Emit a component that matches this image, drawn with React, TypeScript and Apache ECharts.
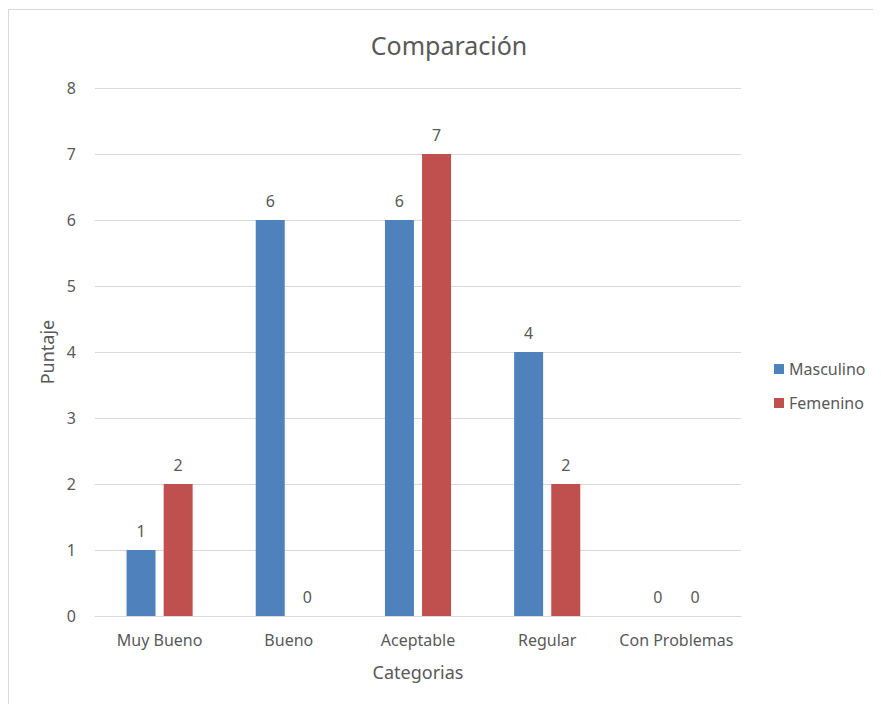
import React, { useEffect, useRef } from "react";
import * as echarts from "echarts";

const categories = ["Muy Bueno", "Bueno", "Aceptable", "Regular", "Con Problemas"];
const masculino = [1, 6, 6, 4, 0];
const femenino = [2, 0, 7, 2, 0];
const yTicks = { min: 0, max: 8, interval: 1 };

const FONT = "'Noto Sans', 'Open Sans', sans-serif";
const TXT = "#595959";

export default function App() {
  const ref = useRef<HTMLDivElement>(null);
  useEffect(() => {
    const chart = echarts.init(ref.current!, null, { renderer: "svg" });
    const label = {
      show: true,
      position: "top" as const,
      distance: 11,
      color: TXT,
      fontSize: 16,
      fontFamily: FONT,
    };
    chart.setOption({
      animation: false,
      textStyle: { fontFamily: FONT },
      graphic: [
        {
          type: "rect",
          shape: { x: 0.5, y: 1.5, width: 1000, height: 1000 },
          style: { fill: "none", stroke: "#d9d9d9", lineWidth: 1 },
          silent: true,
        },
      ],
      title: {
        text: "Comparación",
        left: 436,
        top: 19,
        textAlign: "center",
        textStyle: { color: TXT, fontSize: 25, fontWeight: "normal", fontFamily: FONT },
      },
      legend: {
        orient: "vertical",
        left: 761,
        top: 348,
        itemWidth: 10,
        itemHeight: 10,
        itemGap: 18,
        icon: "rect",
        textStyle: { color: TXT, fontSize: 16, fontFamily: FONT },
        data: ["Masculino", "Femenino"],
      },
      grid: { left: 87, right: 140, top: 80, bottom: 88 },
      xAxis: {
        type: "category",
        data: categories,
        name: "Categorias",
        nameLocation: "middle",
        nameGap: 47,
        nameTextStyle: { color: TXT, fontSize: 18, fontFamily: FONT },
        axisLine: { lineStyle: { color: "#d9d9d9" } },
        axisTick: { show: false },
        axisLabel: { color: TXT, fontSize: 16, margin: 16, fontFamily: FONT, interval: 0, hideOverlap: false },
      },
      yAxis: {
        type: "value",
        min: yTicks.min,
        max: yTicks.max,
        interval: yTicks.interval,
        name: "Puntaje",
        nameLocation: "middle",
        nameGap: 38,
        nameTextStyle: { color: TXT, fontSize: 18, fontFamily: FONT },
        axisLine: { show: false },
        axisTick: { show: false },
        axisLabel: { color: TXT, fontSize: 16, margin: 19, fontFamily: FONT },
        splitLine: { lineStyle: { color: "#d9d9d9" } },
      },
      series: [
        {
          name: "Masculino",
          type: "bar",
          data: masculino,
          barWidth: 29,
          barGap: "28%",
          itemStyle: { color: "#4F81BD" },
          label,
        },
        {
          name: "Femenino",
          type: "bar",
          data: femenino,
          barWidth: 29,
          barGap: "28%",
          itemStyle: { color: "#C0504D" },
          label,
        },
      ],
    });
    return () => chart.dispose();
  }, []);
  return <div ref={ref} style={{ width: 873, height: 696 }} />;
}
